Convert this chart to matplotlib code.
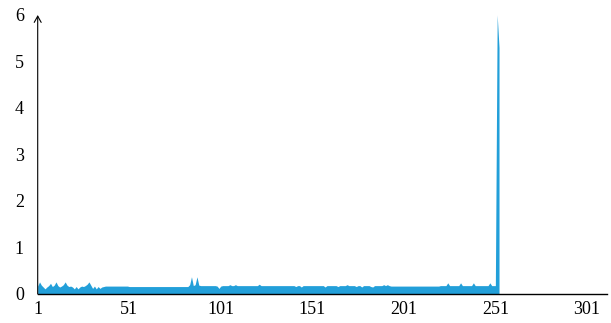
import matplotlib
matplotlib.use("Agg")
import matplotlib.pyplot as plt
import numpy as np

values = [
    0.17, 0.26, 0.19, 0.15, 0.11, 0.15, 0.18, 0.23, 0.16, 0.19,
    0.26, 0.18, 0.15, 0.17, 0.20, 0.26, 0.19, 0.16, 0.17, 0.15,
    0.11, 0.16, 0.11, 0.15, 0.17, 0.16, 0.18, 0.21, 0.26, 0.19,
    0.12, 0.17, 0.11, 0.16, 0.12, 0.15, 0.16, 0.17, 0.17, 0.17,
    0.17, 0.17, 0.17, 0.17, 0.17, 0.17, 0.17, 0.17, 0.17, 0.17,
    0.16, 0.16, 0.16, 0.16, 0.16, 0.16, 0.16, 0.16, 0.16, 0.16,
    0.16, 0.16, 0.16, 0.16, 0.16, 0.16, 0.16, 0.16, 0.16, 0.16,
    0.16, 0.16, 0.16, 0.16, 0.16, 0.16, 0.16, 0.16, 0.16, 0.16,
    0.16, 0.16, 0.16, 0.20, 0.37, 0.18, 0.20, 0.37, 0.19, 0.18,
    0.18, 0.18, 0.18, 0.18, 0.18, 0.18, 0.18, 0.18, 0.17, 0.12,
    0.17, 0.18, 0.18, 0.18, 0.18, 0.20, 0.18, 0.18, 0.20, 0.18,
    0.18, 0.18, 0.18, 0.18, 0.18, 0.18, 0.18, 0.18, 0.18, 0.18,
    0.18, 0.21, 0.18, 0.18, 0.18, 0.18, 0.18, 0.18, 0.18, 0.18,
    0.18, 0.18, 0.18, 0.18, 0.18, 0.18, 0.18, 0.18, 0.18, 0.18,
    0.18, 0.16, 0.18, 0.18, 0.15, 0.18, 0.18, 0.18, 0.18, 0.18,
    0.18, 0.18, 0.18, 0.18, 0.18, 0.18, 0.18, 0.15, 0.18, 0.18,
    0.18, 0.18, 0.18, 0.18, 0.16, 0.18, 0.18, 0.18, 0.18, 0.20,
    0.18, 0.18, 0.18, 0.18, 0.16, 0.18, 0.18, 0.15, 0.18, 0.18,
    0.18, 0.18, 0.16, 0.15, 0.18, 0.18, 0.18, 0.18, 0.18, 0.20,
    0.18, 0.20, 0.18, 0.17, 0.17, 0.17, 0.17, 0.17, 0.17, 0.17,
    0.17, 0.17, 0.17, 0.17, 0.17, 0.17, 0.17, 0.17, 0.17, 0.17,
    0.17, 0.17, 0.17, 0.17, 0.17, 0.17, 0.17, 0.17, 0.17, 0.17,
    0.18, 0.18, 0.18, 0.18, 0.24, 0.18, 0.18, 0.18, 0.18, 0.18,
    0.18, 0.24, 0.18, 0.18, 0.18, 0.18, 0.18, 0.18, 0.24, 0.18,
    0.18, 0.18, 0.18, 0.18, 0.18, 0.18, 0.18, 0.24, 0.18, 0.18,
    0.18, 6.00, 5.30,
]
x_ticks = [1, 51, 101, 151, 201, 251, 301]
y_ticks = [0, 1, 2, 3, 4, 5, 6]

plt.rcParams['font.family'] = ['Liberation Serif', 'DejaVu Serif']

fig = plt.figure(figsize=(6.11, 3.23), dpi=100)
ax = fig.add_axes([0.0617, 0.0898, 0.9318, 0.8638])

x = np.arange(1, len(values) + 1)
ax.fill_between(x, values, 0, color='#229fd9', lw=0)

ax.set_xlim(1, 312)
ax.set_ylim(0, 6)
ax.set_xticks(x_ticks)
ax.set_yticks(y_ticks)
ax.tick_params(axis='both', length=0, labelsize=13)
ax.tick_params(axis='y', pad=10)
ax.tick_params(axis='x', pad=5)

for s in ['top', 'right', 'left']:
    ax.spines[s].set_visible(False)
ax.spines['bottom'].set_linewidth(1.0)

ax.annotate('', xy=(0, 1.0), xytext=(0, 0), xycoords='axes fraction',
            textcoords='axes fraction',
            arrowprops=dict(arrowstyle='->,head_width=0.25,head_length=0.45',
                            lw=0.8, color='black', shrinkA=0, shrinkB=0))

fig.savefig('out.png', dpi=100)
